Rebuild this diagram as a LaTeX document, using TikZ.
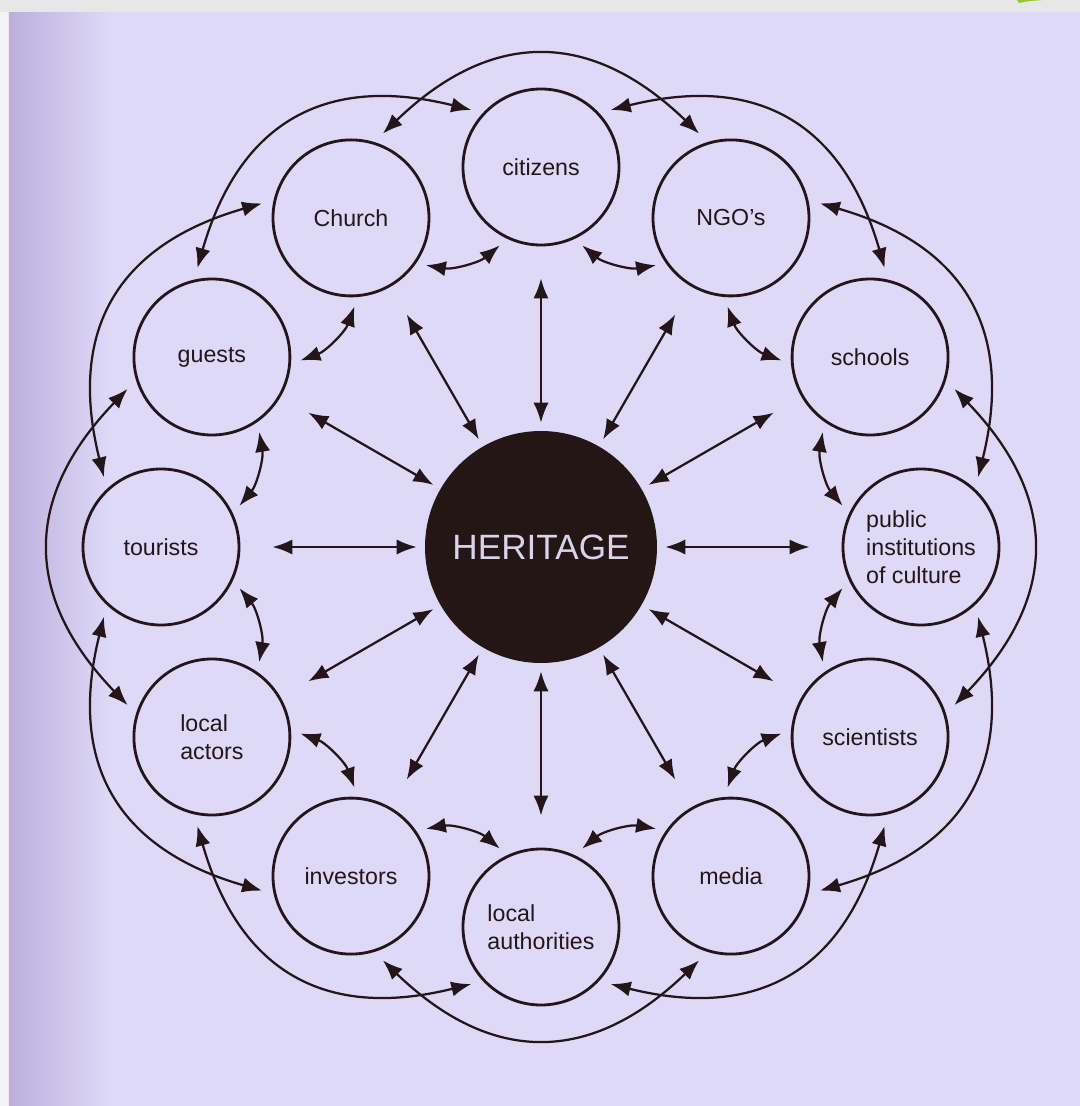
\documentclass[tikz,border=0pt]{standalone}
\usepackage{fontspec}
\setmainfont{Liberation Sans}
\usepackage{xcolor}
\usepackage{tikz}
\usetikzlibrary{arrows.meta}
\definecolor{inkColor}{RGB}{36,22,24}
\definecolor{hubColor}{RGB}{36,22,20}
\definecolor{hubText}{RGB}{216,212,236}
\definecolor{pageColor}{RGB}{221,217,247}
\definecolor{edgeColor}{RGB}{188,175,221}
\definecolor{scanGray}{RGB}{231,231,231}
\definecolor{scanWhite}{RGB}{243,243,243}
\definecolor{markGreen}{RGB}{150,200,40}
\tikzset{
    stakenode/.style={
        circle,
        draw=inkColor,
        line width=2pt,
        minimum size=3.9cm,
        inner sep=0pt,
        text=inkColor,
        align=left,
        font=\fontsize{16.5}{20}\selectfont
    },
    hubnode/.style={
        circle,
        fill=hubColor,
        minimum size=5.8cm,
        inner sep=0pt,
        text=hubText,
        font=\fontsize{25}{30}\selectfont
    },
    ptr/.style={
        {Latex[length=5mm,width=3.8mm]}-{Latex[length=5mm,width=3.8mm]},
        draw=inkColor,
        line width=1.6pt
    },
    spoke/.style={ptr, shorten <=2mm, shorten >=8mm},
    sideptr/.style={ptr, shorten <=2.5mm, shorten >=2.5mm, bend left=25},
    ringptr/.style={ptr, shorten <=3mm, shorten >=3mm, looseness=1.25}
}

\begin{document}
\begin{tikzpicture}
    \useasboundingbox (-13.525,-13.975) rectangle (13.475,13.675);

    % scanned page
    \fill[scanGray] (-13.525,-13.975) rectangle (13.475,13.675);
    \fill[scanWhite] (-13.525,-13.975) rectangle (-13.3,13.3625);
    \fill[pageColor] (-13.3,-13.975) rectangle (13.475,13.3625);
    \shade[left color=edgeColor, right color=pageColor] (-13.3,-13.975) rectangle (-10.8,13.3625);
    \fill[markGreen] (11.9,13.675) -- (12.55,13.675) .. controls (12.2,13.65) .. (11.95,13.6) -- cycle;

    % stakeholders round the heritage
    \node[hubnode] (heritage) at (0,0) {HERITAGE};
    \node[stakenode] (citizens) at (90:9.5) {citizens};
    \node[stakenode] (church) at (120:9.5) {Church};
    \node[stakenode] (guests) at (150:9.5) {guests};
    \node[stakenode] (tourists) at (180:9.5) {tourists};
    \node[stakenode] (actors) at (210:9.5) {local\\actors};
    \node[stakenode] (investors) at (240:9.5) {investors};
    \node[stakenode] (authorities) at (270:9.5) {local\\authorities};
    \node[stakenode] (media) at (300:9.5) {media};
    \node[stakenode] (scientists) at (330:9.5) {scientists};
    \node[stakenode] (institutions) at (0:9.5) {public\\institutions\\of culture};
    \node[stakenode] (schools) at (30:9.5) {schools};
    \node[stakenode] (ngos) at (60:9.5) {NGO's};

    % spokes to the centre
    \draw[spoke] (heritage) -- (citizens);
    \draw[spoke] (heritage) -- (church);
    \draw[spoke] (heritage) -- (guests);
    \draw[spoke] (heritage) -- (tourists);
    \draw[spoke] (heritage) -- (actors);
    \draw[spoke] (heritage) -- (investors);
    \draw[spoke] (heritage) -- (authorities);
    \draw[spoke] (heritage) -- (media);
    \draw[spoke] (heritage) -- (scientists);
    \draw[spoke] (heritage) -- (institutions);
    \draw[spoke] (heritage) -- (schools);
    \draw[spoke] (heritage) -- (ngos);

    % neighbours
    \draw[sideptr] (citizens.245) to (church.-35);
    \draw[sideptr] (church.275) to (guests.-5);
    \draw[sideptr] (guests.305) to (tourists.25);
    \draw[sideptr] (tourists.335) to (actors.55);
    \draw[sideptr] (actors.5) to (investors.85);
    \draw[sideptr] (investors.35) to (authorities.115);
    \draw[sideptr] (authorities.65) to (media.145);
    \draw[sideptr] (media.95) to (scientists.175);
    \draw[sideptr] (scientists.125) to (institutions.205);
    \draw[sideptr] (institutions.155) to (schools.235);
    \draw[sideptr] (schools.185) to (ngos.265);
    \draw[sideptr] (ngos.215) to (citizens.295);

    % outer ring, one circle skipped
    \draw[ringptr] (citizens.137) to[out=166, in=74] (guests.103);
    \draw[ringptr] (church.167) to[out=196, in=104] (tourists.133);
    \draw[ringptr] (guests.197) to[out=226, in=134] (actors.163);
    \draw[ringptr] (tourists.227) to[out=256, in=164] (investors.193);
    \draw[ringptr] (actors.257) to[out=286, in=194] (authorities.223);
    \draw[ringptr] (investors.287) to[out=316, in=224] (media.253);
    \draw[ringptr] (authorities.317) to[out=346, in=254] (scientists.283);
    \draw[ringptr] (media.347) to[out=16, in=284] (institutions.313);
    \draw[ringptr] (scientists.17) to[out=46, in=314] (schools.343);
    \draw[ringptr] (institutions.47) to[out=76, in=-16] (ngos.13);
    \draw[ringptr] (schools.77) to[out=106, in=14] (citizens.43);
    \draw[ringptr] (ngos.107) to[out=136, in=44] (church.73);
\end{tikzpicture}
\end{document}
